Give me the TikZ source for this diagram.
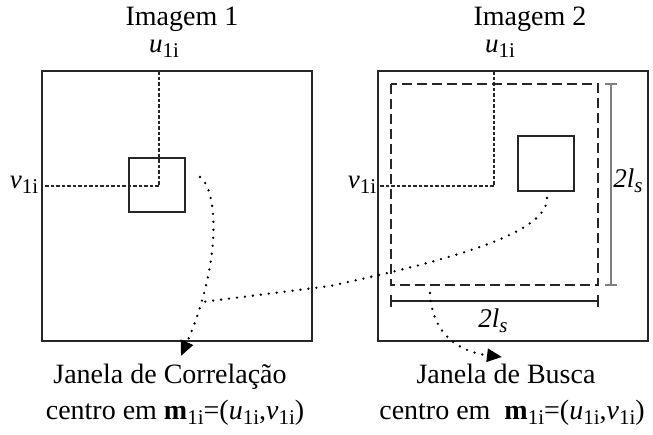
\documentclass[tikz,border=0pt]{standalone}
\usepackage{fontspec}
\setmainfont{Liberation Serif}
\usetikzlibrary{arrows.meta}
\newcommand\mysub[1]{\raisebox{-5pt}{\fontsize{21}{21}\selectfont #1}}
\newcommand\lblsub[1]{\raisebox{-5.5pt}{\fontsize{21}{21}\selectfont #1}}
\begin{document}
\begin{tikzpicture}[x=1pt,y=-1pt,
  frame/.style={draw=black!85,line width=2.2pt},
  win/.style={draw=black!85,line width=2pt},
  searchwin/.style={draw=black!85,line width=2pt,dash pattern=on 10pt off 5pt},
  cross/.style={draw=black!85,line width=1.8pt,dash pattern=on 3.5pt off 2pt},
  dotline/.style={draw=black,line width=2.6pt,line cap=round,dash pattern=on 0pt off 8pt},
  dotarrow/.style={dotline,-{Triangle[length=15pt,width=13pt]}},
  dimv/.style={draw=black!50,line width=1.1pt},
  dimh/.style={draw=black!85,line width=1.3pt},
  big/.style={font=\fontsize{28}{32}\selectfont,inner sep=0pt},
  lbl/.style={font=\fontsize{27}{30}\selectfont,inner sep=0pt},
]
\useasboundingbox (0,0) rectangle (653,434);

% frames
\draw[frame] (42,71) coordinate (L1) rectangle (312,341) coordinate (L2);
\draw[frame] (378,71) coordinate (R1) rectangle (648,341) coordinate (R2);

% windows
\draw[win] (129,158) coordinate (lw1) rectangle (185,212) coordinate (lw2);
\draw[win] (518,136) coordinate (rw1) rectangle (574,191) coordinate (rw2);
\draw[searchwin] (391,84) coordinate (sw1) rectangle (598,285) coordinate (sw2);

% cross hairs
\coordinate (lct) at (159,71);
\coordinate (lcc) at (159,186);
\coordinate (lcl) at (42,186);
\draw[cross] (lct) -- (lcc) -- (lcl);
\coordinate (rct) at (494,71);
\coordinate (rcc) at (494,186);
\coordinate (rcl) at (378,186);
\draw[cross] (rct) -- (rcc) -- (rcl);

% titles and labels
\node[big,anchor=base] (t1) at (182,25) {Imagem 1};
\node[big,anchor=base] (t2) at (530,25) {Imagem 2};
\node[lbl,anchor=base] (u1) at (164,52) {\textit{u}\lblsub{1i}};
\node[lbl,anchor=base] (u2) at (500,52) {\textit{u}\lblsub{1i}};
\node[lbl,anchor=base] (v1) at (24,188) {\textit{v}\lblsub{1i}};
\node[lbl,anchor=base] (v2) at (362,188) {\textit{v}\lblsub{1i}};

% dimension lines
\coordinate (dv1) at (611,84);
\coordinate (dv2) at (611,285);
\draw[dimv] (dv1) -- (dv2);
\draw[dimv] ([xshift=-6pt]dv1) -- ([xshift=6pt]dv1);
\draw[dimv] ([xshift=-6pt]dv2) -- ([xshift=6pt]dv2);
\node[lbl,anchor=base] (lsv) at (628,187) {\textit{2l}\lblsub{\textit{s}}};

\coordinate (dh1) at (391,301);
\coordinate (dh2) at (598,301);
\draw[dimh] (dh1) -- (dh2);
\draw[dimh] ([yshift=-6pt]dh1) -- ([yshift=6pt]dh1);
\draw[dimh] ([yshift=-6pt]dh2) -- ([yshift=6pt]dh2);
\node[lbl,anchor=base] (lsh) at (493,327) {\textit{2l}\lblsub{\textit{s}}};

% bottom texts
\node[big,anchor=base] (jc) at (170,383) {Janela de Correlação};
\node[big,anchor=base] (cc) at (175,419) {centro em \textbf{m}\mysub{1i}=(\textit{u}\mysub{1i},\textit{v}\mysub{1i})};
\node[big,anchor=base] (jb) at (506,383) {Janela de Busca};
\node[big,anchor=base] (cb) at (512,419) {centro em\ \ \textbf{m}\mysub{1i}=(\textit{u}\mysub{1i},\textit{v}\mysub{1i})};

% dotted connectors
\coordinate (c1s) at (200,177);
\coordinate (c1e) at (181,356);
\draw[dotarrow] (c1s) .. controls (218,190) and (222,262) .. (c1e);
\coordinate (c2s) at (547,198);
\coordinate (c2m) at (330,286);
\coordinate (c2e) at (202,302);
\draw[dotline] (c2s) .. controls (548,235) and (440,262) .. (c2m) -- (c2e);
\coordinate (c3s) at (430,293);
\coordinate (c3e) at (502,357);
\draw[dotarrow] (c3s) .. controls (432,335) and (460,352) .. (c3e);
\end{tikzpicture}
\end{document}
